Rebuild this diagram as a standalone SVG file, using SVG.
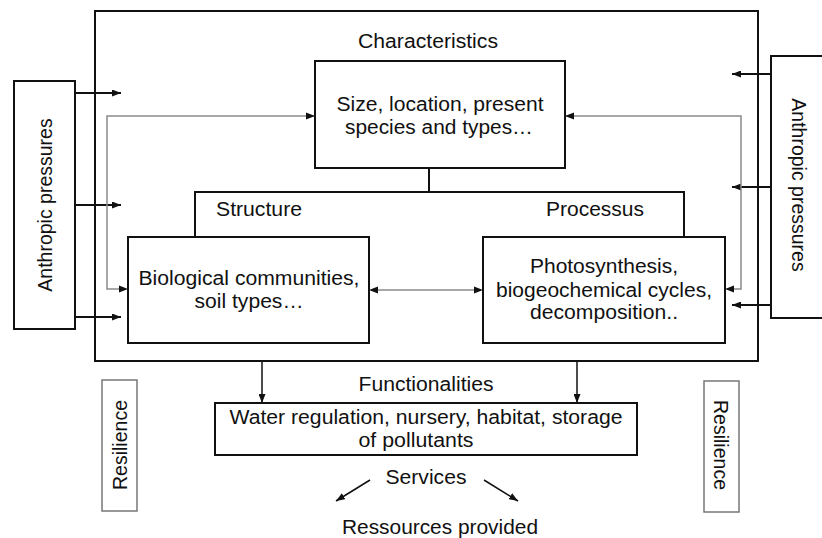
<svg xmlns="http://www.w3.org/2000/svg" width="822" height="538" viewBox="0 0 822 538">
  <style>
    .box { fill: #fff; stroke: #111; stroke-width: 2; }
    .thin { fill: #fff; stroke: #777; stroke-width: 1.5; }
    .t { font-family: "Liberation Sans", Arial, sans-serif; font-size: 19.5px; fill: #111; text-anchor: middle; }
    .blk { fill: none; stroke: #111; stroke-width: 2; }
    .gry { fill: none; stroke: #8a8a8a; stroke-width: 1.5; }
    .arr { marker-end: url(#ah); }
  </style>
  <defs>
    <marker id="ah" markerUnits="userSpaceOnUse" markerWidth="9" markerHeight="7" refX="9" refY="3.5" orient="auto-start-reverse">
      <path d="M0,0 L9,3.5 L0,7 z" fill="#111"/>
    </marker>
  </defs>

  <rect width="822" height="538" fill="#fff"/>

  <!-- ecosystem frame -->
  <g id="frame">
    <rect x="95" y="11" width="663" height="350" fill="none" stroke="#111" stroke-width="2"/>
  </g>

  <!-- pressure boxes -->
  <g id="pressures-left">
    <rect class="box" x="14" y="81" width="61" height="248"/>
    <text class="t" transform="translate(52,205) rotate(-90)">Anthropic pressures</text>
  </g>
  <g id="pressures-right">
    <rect class="box" x="771" y="56" width="70" height="262"/>
    <text class="t" transform="translate(792,185) rotate(90)">Anthropic pressures</text>
  </g>

  <!-- characteristics -->
  <g id="characteristics">
    <text class="t" x="428" y="48" textLength="140" lengthAdjust="spacingAndGlyphs">Characteristics</text>
    <rect class="box" x="315" y="61" width="250" height="107"/>
    <text class="t" x="440" y="111" textLength="207" lengthAdjust="spacingAndGlyphs">Size, location, present</text>
    <text class="t" x="439" y="134" textLength="188" lengthAdjust="spacingAndGlyphs">species and types…</text>
  </g>

  <!-- structure -->
  <g id="structure">
    <text class="t" x="259" y="216" textLength="86" lengthAdjust="spacingAndGlyphs">Structure</text>
    <rect class="box" x="128" y="237" width="241" height="106"/>
    <text class="t" x="249" y="285" textLength="221" lengthAdjust="spacingAndGlyphs">Biological communities,</text>
    <text class="t" x="249" y="308" textLength="109" lengthAdjust="spacingAndGlyphs">soil types…</text>
  </g>

  <!-- processus -->
  <g id="processus">
    <text class="t" x="595" y="216" textLength="98" lengthAdjust="spacingAndGlyphs">Processus</text>
    <rect class="box" x="483" y="237" width="242" height="106"/>
    <text class="t" x="604" y="273" textLength="148" lengthAdjust="spacingAndGlyphs">Photosynthesis,</text>
    <text class="t" x="604" y="297" textLength="216" lengthAdjust="spacingAndGlyphs">biogeochemical cycles,</text>
    <text class="t" x="604" y="319" textLength="148" lengthAdjust="spacingAndGlyphs">decomposition..</text>
  </g>

  <!-- functionalities -->
  <g id="functionalities">
    <text class="t" x="426" y="391" textLength="135" lengthAdjust="spacingAndGlyphs">Functionalities</text>
    <rect class="box" x="215" y="403" width="422" height="52"/>
    <text class="t" x="426" y="424" textLength="393" lengthAdjust="spacingAndGlyphs">Water regulation, nursery, habitat, storage</text>
    <text class="t" x="416" y="447" textLength="115" lengthAdjust="spacingAndGlyphs">of pollutants</text>
  </g>

  <!-- services -->
  <g id="services">
    <text class="t" x="426" y="484" textLength="81" lengthAdjust="spacingAndGlyphs">Services</text>
    <text class="t" x="440" y="534" textLength="196" lengthAdjust="spacingAndGlyphs">Ressources provided</text>
  </g>

  <!-- resilience -->
  <g id="resilience-left">
    <rect class="thin" x="102" y="380" width="35" height="131"/>
    <text class="t" transform="translate(127,445) rotate(-90)">Resilience</text>
  </g>
  <g id="resilience-right">
    <rect class="thin" x="704" y="381" width="35" height="131"/>
    <text class="t" transform="translate(714,445) rotate(90)">Resilience</text>
  </g>

  <!-- connectors -->
  <g id="connectors">
    <!-- pressures entering from the left -->
    <line class="blk arr" x1="75" y1="93" x2="121" y2="93"/>
    <line class="blk arr" x1="75" y1="205" x2="121" y2="205"/>
    <line class="blk arr" x1="75" y1="317" x2="121" y2="317"/>
    <!-- pressures entering from the right -->
    <line class="blk arr" x1="771" y1="74" x2="732" y2="74"/>
    <line class="blk arr" x1="771" y1="187" x2="732" y2="187"/>
    <line class="blk arr" x1="771" y1="305" x2="732" y2="305"/>

    <!-- grey feedback loops -->
    <polyline class="gry" points="314,116 107,116 107,289 126,289"/>
    <path d="M306,112.5 L315,116 L306,119.5 z" fill="#111"/>
    <path d="M119,285.5 L128,289 L119,292.5 z" fill="#111"/>
    <polyline class="gry" points="566,116 741,116 741,289 727,289"/>
    <path d="M574,112.5 L565,116 L574,119.5 z" fill="#111"/>
    <path d="M734,285.5 L725,289 L734,292.5 z" fill="#111"/>

    <!-- structure / processus bracket -->
    <line class="blk" x1="429" y1="168" x2="429" y2="192"/>
    <polyline class="blk" points="195,237 195,192 684,192 684,237"/>

    <!-- structure <-> processus -->
    <line class="gry" x1="376" y1="290" x2="476" y2="290"/>
    <path d="M378,286.5 L369,290 L378,293.5 z" fill="#111"/>
    <path d="M474,286.5 L483,290 L474,293.5 z" fill="#111"/>

    <!-- down to functionalities -->
    <line class="blk arr" x1="262" y1="361" x2="262" y2="403" style="stroke-width:1.5"/>
    <line class="blk arr" x1="577" y1="361" x2="577" y2="403" style="stroke-width:1.5"/>

    <!-- services fan-out -->
    <line class="blk arr" x1="370" y1="480" x2="336" y2="501" style="stroke-width:1.5"/>
    <line class="blk arr" x1="484" y1="480" x2="518" y2="501" style="stroke-width:1.5"/>
  </g>
</svg>
